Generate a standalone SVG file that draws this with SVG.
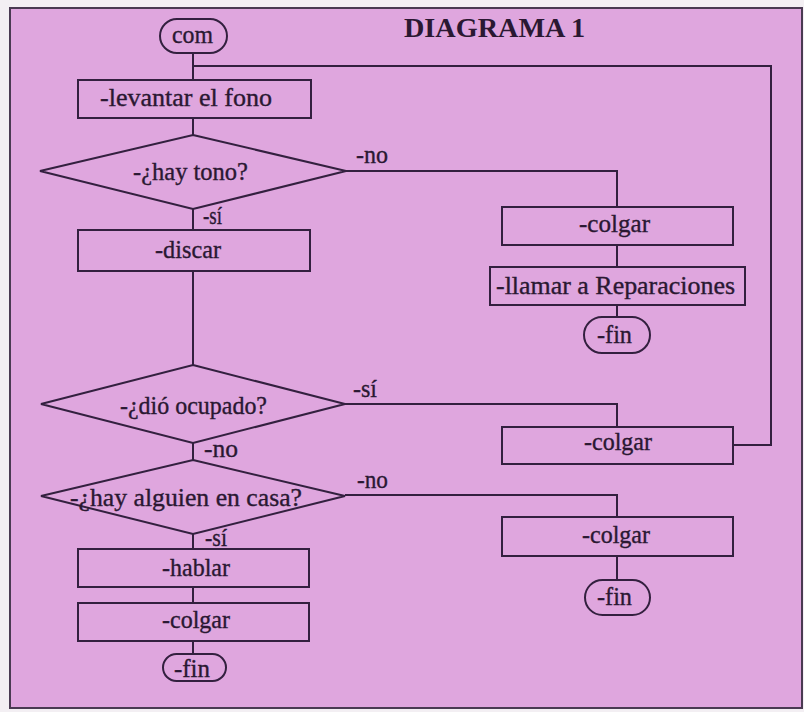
<svg xmlns="http://www.w3.org/2000/svg" width="804" height="712" viewBox="0 0 804 712">
<style>
.box{fill:none;stroke:#33203f;stroke-width:2}
.ln{fill:none;stroke:#33203f;stroke-width:2}
.t{font-family:"Liberation Serif","Times New Roman",serif;font-size:25px;fill:#2a1832;stroke:#2a1832;stroke-width:0.35}
.h{font-family:"Liberation Serif","Times New Roman",serif;font-size:27px;font-weight:bold;fill:#2a1832}
</style>
<rect x="0" y="0" width="804" height="712" fill="#f3eff3"/>
<rect x="10" y="8" width="792" height="700" fill="#dfa6de" stroke="#4a3a52" stroke-width="2"/>
<text class="h" x="404" y="37" textLength="181" lengthAdjust="spacingAndGlyphs">DIAGRAMA 1</text>
<g id="connectors">
<path class="ln" d="M193 53V80M193 118V135M193 209V230M193 271V365M193 443V460M193 534V549M193 587V603M193 641V654"/>
<path class="ln" d="M346 171H617V207M617 245V267M617 305V317"/>
<path class="ln" d="M345 404H617V427"/>
<path class="ln" d="M733 445H771V66H193"/>
<path class="ln" d="M345 495H617V517M617 556V580"/>
<text class="t" x="356" y="163" textLength="32" lengthAdjust="spacingAndGlyphs">-no</text>
<text class="t" x="203" y="224" textLength="19" lengthAdjust="spacingAndGlyphs">-sí</text>
<text class="t" x="353" y="397" textLength="24" lengthAdjust="spacingAndGlyphs">-sí</text>
<text class="t" x="204" y="457" textLength="34" lengthAdjust="spacingAndGlyphs">-no</text>
<text class="t" x="357" y="488" textLength="31" lengthAdjust="spacingAndGlyphs">-no</text>
<text class="t" x="205" y="546" textLength="22" lengthAdjust="spacingAndGlyphs">-sí</text>
</g>
<g id="com"><rect class="box" x="160" y="19" width="67" height="34" rx="17"/><text class="t" x="172" y="43" textLength="41" lengthAdjust="spacingAndGlyphs">com</text></g>
<g id="levantar"><rect class="box" x="78" y="80" width="233" height="38"/><text class="t" x="100" y="106" textLength="172" lengthAdjust="spacingAndGlyphs">-levantar el fono</text></g>
<g id="hay-tono"><polygon class="box" points="193,135 346,171 193,209 40,171"/><text class="t" x="133" y="180" textLength="115" lengthAdjust="spacingAndGlyphs">-¿hay tono?</text></g>
<g id="discar"><rect class="box" x="78" y="230" width="232" height="41"/><text class="t" x="155" y="258" textLength="66" lengthAdjust="spacingAndGlyphs">-discar</text></g>
<g id="colgar1"><rect class="box" x="502" y="207" width="231" height="38"/><text class="t" x="579" y="232" textLength="71" lengthAdjust="spacingAndGlyphs">-colgar</text></g>
<g id="reparaciones"><rect class="box" x="490" y="267" width="255" height="38"/><text class="t" x="496" y="294" textLength="239" lengthAdjust="spacingAndGlyphs">-llamar a Reparaciones</text></g>
<g id="fin1"><rect class="box" x="584" y="317" width="66" height="36" rx="18"/><text class="t" x="597" y="343" textLength="35" lengthAdjust="spacingAndGlyphs">-fin</text></g>
<g id="ocupado"><polygon class="box" points="193,365 345,404 193,443 41,404"/><text class="t" x="120" y="414" textLength="147" lengthAdjust="spacingAndGlyphs">-¿dió ocupado?</text></g>
<g id="colgar2"><rect class="box" x="502" y="427" width="231" height="37"/><text class="t" x="584" y="450" textLength="68" lengthAdjust="spacingAndGlyphs">-colgar</text></g>
<g id="alguien"><polygon class="box" points="193,460 345,496 193,534 41,496"/><text class="t" x="70" y="506" textLength="232" lengthAdjust="spacingAndGlyphs">-¿hay alguien en casa?</text></g>
<g id="colgar3"><rect class="box" x="502" y="517" width="231" height="39"/><text class="t" x="582" y="543" textLength="68" lengthAdjust="spacingAndGlyphs">-colgar</text></g>
<g id="fin2"><rect class="box" x="585" y="580" width="65" height="35" rx="17.5"/><text class="t" x="597" y="605" textLength="35" lengthAdjust="spacingAndGlyphs">-fin</text></g>
<g id="hablar"><rect class="box" x="78" y="549" width="231" height="38"/><text class="t" x="162" y="576" textLength="68" lengthAdjust="spacingAndGlyphs">-hablar</text></g>
<g id="colgar4"><rect class="box" x="78" y="603" width="231" height="38"/><text class="t" x="162" y="628" textLength="68" lengthAdjust="spacingAndGlyphs">-colgar</text></g>
<g id="fin3"><rect class="box" x="163" y="654" width="63" height="27" rx="13.5"/><text class="t" x="174" y="677" textLength="36" lengthAdjust="spacingAndGlyphs">-fin</text></g>
</svg>
